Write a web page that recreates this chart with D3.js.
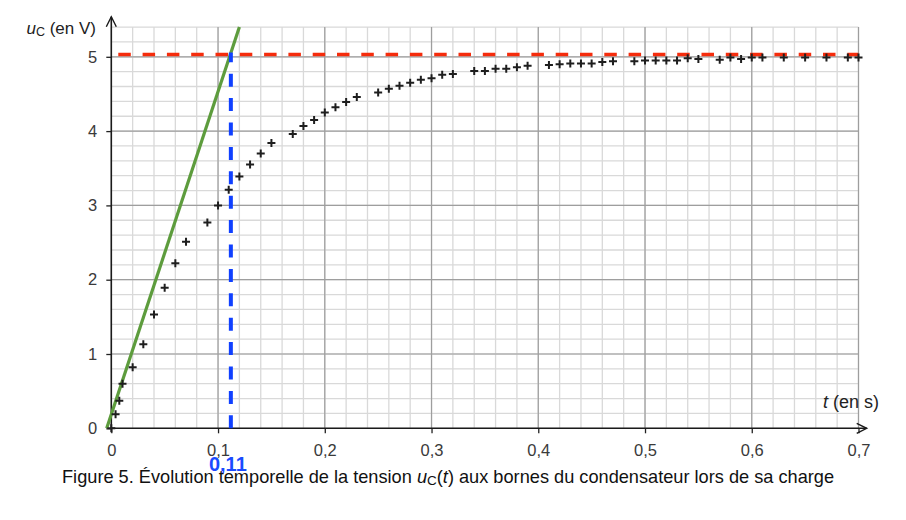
<!DOCTYPE html>
<html><head><meta charset="utf-8">
<script src="https://cdn.jsdelivr.net/npm/d3@7"></script>
<style>
body{margin:0;background:#fff;}
svg{display:block;font-family:"Liberation Sans",Arial,sans-serif;}
</style></head>
<body><svg id="c" width="906" height="520"></svg>
<script>
// ---- data ----
const times = [0, 0.004, 0.0075, 0.0105, 0.02, 0.03, 0.04, 0.05, 0.06, 0.07,
  0.09, 0.10, 0.11, 0.12, 0.13, 0.14, 0.15,
  0.17, 0.18, 0.19, 0.20, 0.21, 0.22, 0.23,
  0.25, 0.26, 0.27, 0.28, 0.29, 0.30, 0.31, 0.32,
  0.34, 0.35, 0.36, 0.37, 0.38, 0.39,
  0.41, 0.42, 0.43, 0.44, 0.45, 0.46, 0.47,
  0.49, 0.50, 0.51, 0.52, 0.53, 0.54, 0.55,
  0.57, 0.58, 0.59, 0.60, 0.61,
  0.63, 0.65, 0.67, 0.69, 0.70];
const voltages = [0, 0.19, 0.37, 0.60, 0.82, 1.13, 1.53, 1.89, 2.22, 2.51,
  2.77, 3.00, 3.21, 3.39, 3.55, 3.70, 3.84,
  3.96, 4.07, 4.15, 4.25, 4.32, 4.39, 4.46,
  4.52, 4.57, 4.61, 4.65, 4.69, 4.71, 4.76, 4.77,
  4.81, 4.81, 4.84, 4.84, 4.86, 4.88,
  4.89, 4.90, 4.91, 4.91, 4.91, 4.93, 4.94,
  4.94, 4.95, 4.95, 4.95, 4.95, 4.98, 4.97,
  4.96, 4.99, 4.97, 4.99, 4.99,
  4.99, 4.99, 4.99, 4.99, 4.99];
const xTickValues = [0, 0.1, 0.2, 0.3, 0.4, 0.5, 0.6, 0.7];
const xTickLabels = ["0", "0,1", "0,2", "0,3", "0,4", "0,5", "0,6", "0,7"];
const yTickValues = [0, 1, 2, 3, 4, 5];
const yTickLabels = ["0", "1", "2", "3", "4", "5"];
const tangentT = [-0.0043, 0.120];   // green tangent line
const tangentU = [0, 5.40];
const asymptoteU = 5.03;              // red dashed line
const tauValue = 0.112;               // blue dashed line
const tauLabel = "0,11";
const caption = ["Figure 5. Évolution temporelle de la tension ", "u", "C", "(", "t", ") aux bornes du condensateur lors de sa charge"];

// ---- drawing ----
const svg = d3.select("#c");
const x = d3.scaleLinear().domain([0, 0.7]).range([111.3, 858.5]);
const y = d3.scaleLinear().domain([0, 5]).range([428.3, 56.8]);
const tMax = 0.7, uMax = 5.4;

const g = svg.append("g");
// minor grid
const minorT = d3.range(0, 36).map(i => i * 0.02).filter(v => v <= tMax + 1e-9);
const minorU = d3.range(0, 28).map(i => i * 0.2).filter(v => v <= uMax + 1e-9);
g.selectAll(".mv").data(minorT).join("line")
  .attr("x1", d => x(d)).attr("x2", d => x(d)).attr("y1", y(0)).attr("y2", y(uMax))
  .attr("stroke", "#d9d9d9").attr("stroke-width", 1.3);
g.selectAll(".mh").data(minorU).join("line")
  .attr("y1", d => y(d)).attr("y2", d => y(d)).attr("x1", x(0)).attr("x2", x(tMax))
  .attr("stroke", "#d9d9d9").attr("stroke-width", 1.3);
// major grid
g.selectAll(".Mv").data(xTickValues.slice(1)).join("line")
  .attr("x1", d => x(d)).attr("x2", d => x(d)).attr("y1", y(0)).attr("y2", y(uMax))
  .attr("stroke", "#9e9e9e").attr("stroke-width", 1.2);
g.selectAll(".Mh").data(yTickValues.slice(1)).join("line")
  .attr("y1", d => y(d)).attr("y2", d => y(d)).attr("x1", x(0)).attr("x2", x(tMax))
  .attr("stroke", "#9e9e9e").attr("stroke-width", 1.2);

// axes with ticks
const yAxis = d3.axisLeft(y).tickValues(yTickValues).tickFormat((d, i) => yTickLabels[i])
  .tickSize(5).tickSizeOuter(0).tickPadding(9);
const xAxis = d3.axisBottom(x).tickValues(xTickValues).tickFormat((d, i) => xTickLabels[i])
  .tickSize(5).tickSizeOuter(0).tickPadding(11);
const ya = svg.append("g").attr("transform", `translate(${x(0)},0)`).call(yAxis);
const xa = svg.append("g").attr("transform", `translate(0,${y(0)})`).call(xAxis);
[ya, xa].forEach(a => {
  a.select(".domain").remove();
  a.selectAll(".tick line").attr("stroke", "#222").attr("stroke-width", 1.3);
  a.selectAll(".tick text").attr("fill", "#3a3a3a").style("font-size", "16.5px")
    .style("font-family", "'Liberation Sans', Arial, sans-serif");
});

// axis lines with open arrows
const axisCol = "#1a1a1a";
const yTop = 16.7, xRight = 866.7;
svg.append("line").attr("x1", x(0)).attr("x2", x(0)).attr("y1", y(0)).attr("y2", yTop)
  .attr("stroke", axisCol).attr("stroke-width", 1.6);
svg.append("path").attr("d", `M${x(0) - 5},${yTop + 10}L${x(0)},${yTop}L${x(0) + 5},${yTop + 10}`)
  .attr("fill", "none").attr("stroke", axisCol).attr("stroke-width", 1.4);
svg.append("line").attr("x1", x(0)).attr("x2", xRight).attr("y1", y(0)).attr("y2", y(0))
  .attr("stroke", axisCol).attr("stroke-width", 1.6);
svg.append("path").attr("d", `M${xRight - 10},${y(0) - 5}L${xRight},${y(0)}L${xRight - 10},${y(0) + 5}`)
  .attr("fill", "none").attr("stroke", axisCol).attr("stroke-width", 1.4);

// red dashed asymptote
svg.append("line").attr("x1", x(0)).attr("x2", x(tMax)).attr("y1", y(asymptoteU)).attr("y2", y(asymptoteU))
  .attr("stroke", "#f52c0c").attr("stroke-width", 3.4).attr("stroke-dasharray", "12.5,11.8")
  .attr("stroke-dashoffset", -7);

// green tangent
svg.append("line").attr("x1", x(tangentT[0])).attr("y1", y(tangentU[0]))
  .attr("x2", x(tangentT[1])).attr("y2", y(tangentU[1]))
  .attr("stroke", "#5d9c3d").attr("stroke-width", 3.2);

// blue dashed vertical at tau
svg.append("line").attr("x1", x(tauValue)).attr("x2", x(tauValue)).attr("y1", y(0)).attr("y2", y(asymptoteU) - 2)
  .attr("stroke", "#1040ff").attr("stroke-width", 4).attr("stroke-dasharray", "13,11.4");

// data crosses
const pts = times.map((t, i) => [t, voltages[i]]);
svg.append("g").selectAll("path").data(pts).join("path")
  .attr("d", d => { const px = x(d[0]), py = y(d[1]); return `M${px - 4},${py}H${px + 4}M${px},${py - 4}V${py + 4}`; })
  .attr("stroke", "#1e1e1e").attr("stroke-width", 2).attr("fill", "none");

// axis titles
const yt = svg.append("text").attr("x", 96).attr("y", 34).attr("text-anchor", "end")
  .attr("fill", "#222").style("font-size", "17px");
yt.append("tspan").text("u").style("font-style", "italic");
yt.append("tspan").text("C").style("font-size", "12.5px").attr("dy", 2);
yt.append("tspan").text(" (en V)").attr("dy", -2);

const xt = svg.append("text").attr("x", 879).attr("y", 408).attr("text-anchor", "end")
  .attr("fill", "#222").style("font-size", "18px");
xt.append("tspan").text("t").style("font-style", "italic");
xt.append("tspan").text(" (en s)");

// tau label
svg.append("text").attr("x", x(tauValue) - 3).attr("y", 471).attr("text-anchor", "middle")
  .attr("fill", "#1a4bff").style("font-size", "20px").style("font-weight", "bold").text(tauLabel);

// caption
const cap = svg.append("text").attr("x", 62).attr("y", 483).attr("fill", "#111").style("font-size", "18.2px");
cap.append("tspan").text(caption[0]);
cap.append("tspan").text(caption[1]).style("font-style", "italic");
cap.append("tspan").text(caption[2]).style("font-size", "13.5px").attr("dy", 2);
cap.append("tspan").text(caption[3]).attr("dy", -2);
cap.append("tspan").text(caption[4]).style("font-style", "italic");
cap.append("tspan").text(caption[5]);
</script></body></html>
